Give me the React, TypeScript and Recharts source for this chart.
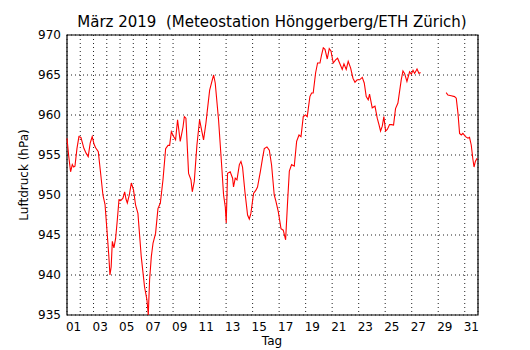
import React from "react";
import {
  LineChart,
  Line,
  XAxis,
  YAxis,
  CartesianGrid,
  ReferenceArea,
} from "recharts";

// Zeit in Tagen seit 1. März 00:00
const dayTimes: number[] = [
  0.0, 0.12, 0.27, 0.4, 0.5, 0.6, 0.75, 0.9, 1.05, 1.28, 1.45, 1.6, 1.75, 1.9,
  2.05, 2.16, 2.36, 2.55, 2.71, 2.87, 3.04, 3.15, 3.24, 3.33, 3.42, 3.54, 3.67,
  3.8, 3.92, 4.05, 4.22, 4.35, 4.45, 4.55, 4.7, 4.85, 5.02, 5.17, 5.35, 5.6,
  5.85, 6.03, 6.13, 6.23, 6.36, 6.49, 6.68, 6.86, 7.04, 7.24, 7.44, 7.62, 7.74,
  7.87, 8.04, 8.19, 8.34, 8.54, 8.75, 8.85, 8.97, 9.17, 9.35, 9.45, 9.6, 9.8,
  10.0, 10.18, 10.3, 10.48, 10.6, 10.76, 10.93, 11.06, 11.18, 11.43, 11.69,
  11.81, 11.94, 12.01, 12.11, 12.31, 12.49, 12.56, 12.69, 12.82, 13.0, 13.12,
  13.24, 13.42, 13.62, 13.75, 13.87, 14.07, 14.25, 14.37, 14.58, 14.75, 14.88,
  15.08, 15.26, 15.43, 15.63, 15.76, 15.94, 16.14, 16.31, 16.49, 16.64, 16.77,
  16.94, 17.14, 17.32, 17.5, 17.65, 17.82, 17.99, 18.12, 18.32, 18.45, 18.57,
  18.75, 18.9, 19.08, 19.2, 19.33, 19.46, 19.63, 19.78, 19.91, 20.08, 20.26,
  20.41, 20.56, 20.76, 20.89, 21.06, 21.21, 21.39, 21.57, 21.72, 21.89, 22.07,
  22.27, 22.42, 22.57, 22.72, 22.82, 23.02, 23.23, 23.4, 23.53, 23.65, 23.78,
  23.9, 24.03, 24.16, 24.33, 24.48, 24.63, 24.78, 24.96, 25.08, 25.21, 25.34,
  25.46, 25.64, 25.84, 25.97, 26.1, 26.22, 26.4, 26.55, 26.67, 27.6, 28.6,
  28.73, 28.98, 29.23, 29.36, 29.49, 29.61, 29.74, 29.86, 30.06, 30.24, 30.36,
  30.49, 30.62, 30.7, 30.8, 30.93,
];

// Luftdruck in hPa (null = Datenlücke)
const pressure: (number | null)[] = [
  957.1, 955.0, 952.9, 953.8, 953.5, 953.6, 955.8, 957.3, 957.2, 955.8, 955.2,
  954.8, 956.5, 957.3, 956.3, 955.9, 955.4, 952.5, 950.0, 948.8, 945.0, 942.5,
  940.0, 941.0, 944.2, 943.4, 944.6, 947.0, 949.4, 949.3, 949.6, 950.4, 949.5,
  949.0, 950.0, 951.5, 950.6, 948.75, 947.7, 942.3, 938.5, 936.9, 935.0, 939.4,
  942.3, 944.0, 945.2, 948.3, 949.0, 951.9, 955.8, 956.2, 956.2, 957.9, 957.3,
  956.9, 959.4, 956.7, 958.5, 959.8, 959.6, 952.7, 951.9, 950.4, 951.7, 956.25,
  959.4, 957.9, 956.9, 959.0, 960.8, 963.1, 964.2, 965.0, 964.0, 959.4, 953.1,
  950.0, 948.5, 946.5, 952.7, 952.9, 952.1, 951.0, 952.1, 951.9, 953.8, 954.2,
  953.5, 950.4, 947.5, 947.0, 947.7, 950.2, 950.6, 951.0, 952.9, 954.6, 955.8,
  956.0, 955.6, 953.75, 950.0, 949.2, 947.9, 945.8, 945.6, 944.4, 949.2, 953.0,
  953.8, 953.6, 956.7, 957.5, 957.3, 959.8, 960.0, 959.8, 962.3, 962.75, 962.75,
  965.25, 966.5, 966.5, 967.5, 968.4, 968.2, 967.0, 968.3, 968.0, 966.5, 966.9,
  967.1, 966.5, 965.7, 966.4, 965.7, 966.7, 965.9, 964.6, 964.1, 964.4, 964.4,
  964.7, 964.0, 962.3, 961.9, 962.6, 960.9, 961.1, 959.6, 958.8, 958.0, 958.6,
  959.8, 958.0, 958.2, 958.8, 958.8, 958.75, 960.8, 961.5, 962.9, 964.4, 965.5,
  965.2, 964.2, 965.4, 965.1, 965.6, 965.2, 965.75, 965.2, 965.3, null, 962.8,
  962.5, 962.4, 962.3, 962.1, 960.2, 957.7, 957.5, 957.7, 957.3, 957.1, 957.2,
  956.25, 954.4, 953.5, 954.2, 954.6,
];

const dayLabels: string[] = [
  "01", "03", "05", "07", "09", "11", "13", "15",
  "17", "19", "21", "23", "25", "27", "29", "31",
];
const labelDays: number[] = [1, 3, 5, 7, 9, 11, 13, 15, 17, 19, 21, 23, 25, 27, 29, 31];
const gridDays: number[] = Array.from({ length: 30 }, (_, i) => i + 1);
const yTicks: number[] = [935, 940, 945, 950, 955, 960, 965, 970];

const data = dayTimes.map((t, i) => ({ t, p: pressure[i] }));
// Beschriftung jeweils in Tagesmitte
const labelTicks = labelDays.map((d) => d - 0.5);

const FONT = "'DejaVu Sans', sans-serif";

export default function App() {
  return (
    <div
      style={{
        position: "absolute",
        left: 0,
        top: 0,
        width: 530,
        height: 350,
        background: "#fff",
        fontFamily: FONT,
      }}
    >
      <div
        style={{
          position: "absolute",
          top: 14,
          left: 72,
          width: 400,
          textAlign: "center",
          fontSize: 15,
          lineHeight: "16px",
          whiteSpace: "pre",
        }}
      >
        {"März 2019  (Meteostation Hönggerberg/ETH Zürich)"}
      </div>
      <div
        style={{
          position: "absolute",
          top: 335,
          left: 222,
          width: 100,
          textAlign: "center",
          fontSize: 12,
          lineHeight: "12px",
        }}
      >
        Tag
      </div>
      <div
        style={{
          position: "absolute",
          top: 169,
          left: -26,
          width: 100,
          textAlign: "center",
          fontSize: 12,
          lineHeight: "12px",
          transform: "rotate(-90deg)",
          whiteSpace: "nowrap",
        }}
      >
        Luftdruck (hPa)
      </div>
      <LineChart
        width={530}
        height={350}
        data={data}
        margin={{ top: 35, right: 52, bottom: 0, left: 17 }}
      >
        <XAxis
          dataKey="t"
          type="number"
          domain={[0, 31]}
          ticks={labelTicks}
          tickFormatter={(v: number) => dayLabels[labelTicks.indexOf(v)] ?? ""}
          interval={0}
          height={35}
          tickLine={false}
          tickSize={4}
          tickMargin={3}
          axisLine={false}
          tick={{ fill: "#000", fontSize: 12, fontFamily: FONT }}
        />
        <XAxis
          xAxisId="grid"
          dataKey="t"
          type="number"
          domain={[0, 31]}
          ticks={gridDays}
          hide
        />
        <YAxis
          type="number"
          domain={[935, 970]}
          ticks={yTicks}
          interval={0}
          width={50}
          tickLine={false}
          tickSize={4}
          tickMargin={2}
          axisLine={false}
          allowDataOverflow
          tick={{ fill: "#000", fontSize: 12, fontFamily: FONT }}
        />
        <YAxis
          yAxisId="right"
          orientation="right"
          mirror
          type="number"
          domain={[935, 970]}
          ticks={yTicks}
          interval={0}
          width={0}
          tickSize={4}
          axisLine={false}
          tickLine={{ stroke: "#000", strokeWidth: 1 }}
          tick={() => <g />}
        />
        <CartesianGrid
          xAxisId="grid"
          stroke="#222"
          strokeDasharray="1 3"
          strokeWidth={1}
        />
        <ReferenceArea
          x1={0}
          x2={31}
          y1={935}
          y2={970}
          fill="none"
          stroke="#000"
          strokeWidth={1.2}
        />
        <Line
          dataKey="p"
          type="linear"
          stroke="#ff0000"
          strokeWidth={1.1}
          dot={false}
          connectNulls={false}
          isAnimationActive={false}
        />
      </LineChart>
    </div>
  );
}
